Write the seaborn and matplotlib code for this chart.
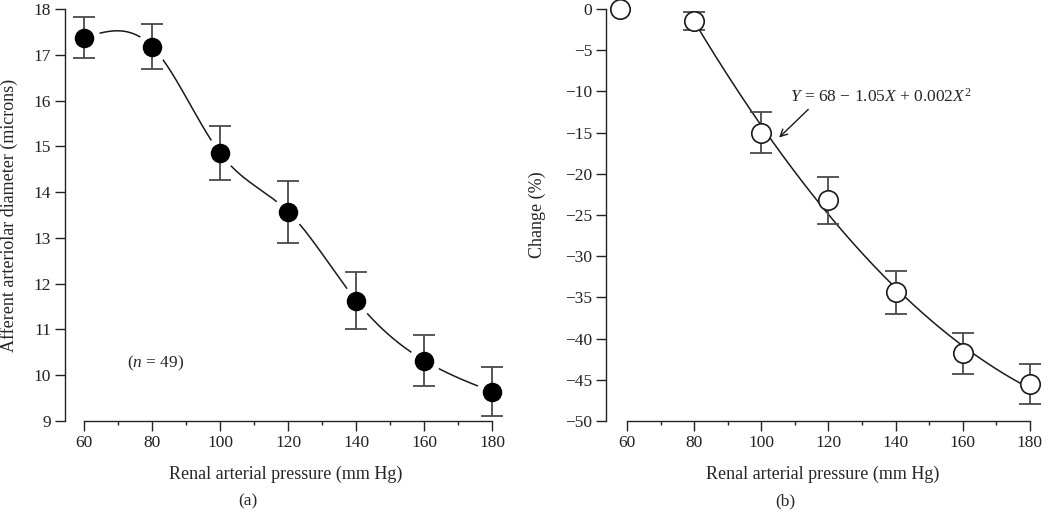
import numpy as np
import pandas as pd
import matplotlib
matplotlib.use("Agg")
import matplotlib.pyplot as plt
import seaborn as sns

# Data
pressure = [60, 80, 100, 120, 140, 160, 180]
diameter = [17.37, 17.18, 14.85, 13.57, 11.63, 10.32, 9.64]
diameter_err = [0.45, 0.50, 0.59, 0.68, 0.62, 0.55, 0.53]

pressure_b = [58, 80, 100, 120, 140, 160, 180]
change = [0.0, -1.45, -15.0, -23.2, -34.4, -41.8, -45.5]
change_err = [0.0, 1.1, 2.5, 2.85, 2.6, 2.45, 2.45]

sns.set_theme(style="ticks")
plt.rcParams.update({
    'font.family': ['Liberation Serif', 'DejaVu Serif'],
    'mathtext.fontset': 'custom',
    'mathtext.rm': 'Liberation Serif',
    'mathtext.it': 'Liberation Serif:italic',
    'font.size': 12.5,
    'axes.labelsize': 13,
    'xtick.labelsize': 12.5,
    'ytick.labelsize': 12.5,
    'axes.linewidth': 1.0,
    'axes.edgecolor': '#222222',
    'xtick.color': '#222222',
    'ytick.color': '#222222',
    'xtick.major.size': 7,
    'ytick.major.size': 7,
    'xtick.minor.size': 3,
    'xtick.major.width': 1.0,
    'ytick.major.width': 1.0,
    'xtick.minor.width': 1.0,
})


def natural_spline(x, y, n=400):
    # natural cubic spline through the points, for the smooth guide line
    x = np.asarray(x, float)
    y = np.asarray(y, float)
    k = len(x)
    h = np.diff(x)
    A = np.zeros((k, k))
    b = np.zeros(k)
    A[0, 0] = A[-1, -1] = 1
    for i in range(1, k - 1):
        A[i, i - 1] = h[i - 1]
        A[i, i] = 2 * (h[i - 1] + h[i])
        A[i, i + 1] = h[i]
        b[i] = 6 * ((y[i + 1] - y[i]) / h[i] - (y[i] - y[i - 1]) / h[i - 1])
    m = np.linalg.solve(A, b)
    xs = np.linspace(x[0], x[-1], n)
    idx = np.clip(np.searchsorted(x, xs) - 1, 0, k - 2)
    t = xs - x[idx]
    hi = h[idx]
    a = (m[idx + 1] - m[idx]) / (6 * hi)
    bb = m[idx] / 2
    c = (y[idx + 1] - y[idx]) / hi - hi * (2 * m[idx] + m[idx + 1]) / 6
    ys = y[idx] + c * t + bb * t ** 2 + a * t ** 3
    return xs, ys


fig = plt.figure(figsize=(10.5, 5.15), dpi=100)
ax1 = fig.add_axes([65 / 1050, 1 - 421 / 515, (506 - 65) / 1050, (421 - 9) / 515])
ax2 = fig.add_axes([606 / 1050, 1 - 421 / 515, (1040 - 606) / 1050, (421 - 9) / 515])

# ---- panel (a)
xs, ys = natural_spline(pressure, diameter)
curve_a = pd.DataFrame({'x': xs, 'y': ys})
sns.lineplot(data=curve_a, x='x', y='y', ax=ax1, color='#1a1a1a', lw=1.1, zorder=1)
ax1.scatter(pressure, diameter, s=22 ** 2, color='white', zorder=2, clip_on=False)
ax1.errorbar(pressure, diameter, yerr=diameter_err, fmt='none', ecolor='#4a4a4a',
             elinewidth=1.3, capsize=8, capthick=1.3, zorder=3, clip_on=False)
df_a = pd.DataFrame({'x': pressure, 'y': diameter})
sns.scatterplot(data=df_a, x='x', y='y', ax=ax1, s=13 ** 2, color='black',
                edgecolor='black', zorder=4, clip_on=False)
ax1.set_xlim(54.4, 184)
ax1.set_ylim(9, 18)
ax1.spines['bottom'].set_bounds(60, 180)
ax1.spines['left'].set_bounds(9, 18)
ax1.text(81, 10.25, '($n$ = 49)', ha='center', va='center', fontsize=12.5)
ax1.set_ylabel('Afferent arteriolar diameter (microns)')

# ---- panel (b)
fit_x = np.array(pressure_b[1:], float)
coef = np.polyfit(fit_x, change[1:], 2)
xb = np.linspace(fit_x[0], fit_x[-1], 300)
curve_b = pd.DataFrame({'x': xb, 'y': np.polyval(coef, xb)})
sns.lineplot(data=curve_b, x='x', y='y', ax=ax2, color='#1a1a1a', lw=1.1, zorder=1)
ax2.errorbar(pressure_b[1:], change[1:], yerr=change_err[1:], fmt='none', ecolor='#4a4a4a',
             elinewidth=1.3, capsize=8, capthick=1.3, zorder=3, clip_on=False)
df_b = pd.DataFrame({'x': pressure_b, 'y': change})
sns.scatterplot(data=df_b, x='x', y='y', ax=ax2, s=14 ** 2, color='white',
                edgecolor='#1a1a1a', linewidth=1.2, zorder=4, clip_on=False)
ax2.set_xlim(53.75, 183)
ax2.set_ylim(-50, 0)
ax2.spines['bottom'].set_bounds(60, 180)
ax2.spines['left'].set_bounds(-50, 0)
ax2.set_yticks(range(-50, 1, 5))
ax2.set_yticklabels([str(v).replace('-', '\u2212') for v in range(-50, 1, 5)])
ax2.annotate('$Y$ = 68 \u2212 1.05$X$ + 0.002$X^2$', xy=(105.3, -15.6), xytext=(108.5, -10.7),
             ha='left', va='center', fontsize=12.5,
             arrowprops=dict(arrowstyle='->', color='#1a1a1a', lw=1.0,
                             shrinkA=0, shrinkB=0, relpos=(0.12, 0.0)))
ax2.set_ylabel('Change (%)')

for ax in (ax1, ax2):
    sns.despine(ax=ax)
    ax.set_xticks(range(60, 181, 20))
    ax.set_xticks(range(70, 180, 20), minor=True)
    ax.set_xlabel('Renal arterial pressure (mm Hg)', labelpad=11)
    ax.tick_params(axis='both', which='both', direction='out', pad=3)
    ax.set_facecolor('white')

# y labels: right edge of the rotated text sits at the given x
ax1.yaxis.set_label_coords((18 - 65) / (506 - 65), 0.5)
ax2.yaxis.set_label_coords((546 - 606) / (1040 - 606), 0.5)

fig.text(248 / 1050, 1 - 501 / 515, '(a)', ha='center', va='center', fontsize=12.5)
fig.text(785 / 1050, 1 - 501 / 515, '(b)', ha='center', va='center', fontsize=12.5)

fig.savefig('out.png', dpi=100, facecolor='white')
plt.close(fig)
